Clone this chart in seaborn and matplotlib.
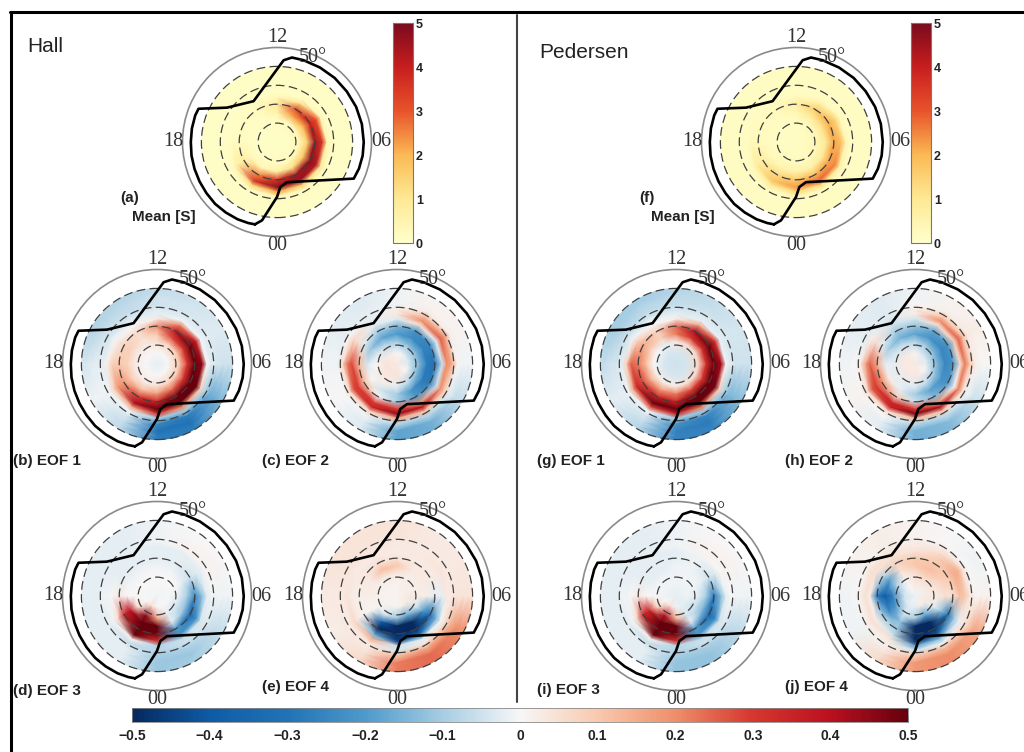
"""EOF maps of Hall and Pedersen conductance, polar MLT dials."""
import numpy as np
import pandas as pd
import seaborn as sns
import matplotlib
matplotlib.use("Agg")
import matplotlib.pyplot as plt
from matplotlib.colors import Normalize
from matplotlib.cm import ScalarMappable
from matplotlib.lines import Line2D
from matplotlib.patches import Circle

W, H = 1024, 752

# grid nodes: hours of MLT (columns) and degrees of colatitude (rows)
MLT = [0, 2, 4, 6, 8, 10, 12, 14, 16, 18, 20, 22]
COLAT = [0, 6, 12, 16, 20, 24, 26.5, 29, 32, 35.5, 38.5]

# data boundary, same for each dial
EDGE_MLT = [23.0, 23.28, 0.0, 0.28, 0.93, 4.3, 4.8, 5.4, 6.0, 6.8, 7.6, 8.4, 9.2, 10.0, 10.8, 11.33, 11.69, 13.99,
            15.7, 16.47, 16.8, 17.4, 18.0, 18.6, 19.2, 19.8, 20.4, 21.0, 21.6, 22.2, 22.7, 23.0]
EDGE_COLAT = [45.1, 42.2, 29.1, 23.9, 21.9, 45.0, 45.6, 45.9, 45.9, 45.9, 45.8, 45.6, 45.6, 45.5, 45.5, 45.4, 43.4,
              24.9, 32.1, 45.1, 45.5, 45.6, 45.6, 45.8, 45.9, 46.0, 46.1, 46.3, 46.1, 45.9, 45.5, 45.1]

HALL_MEAN = [
    [.1, .1, .1, .1, .1, .1, .1, .1, .1, .1, .1, .1],
    [.1, .1, .1, .1, .1, .1, .1, .1, .1, .1, .1, .1],
    [.2, .25, .4, .4, .4, .3, .15, .1, .1, .1, .1, .15],
    [.7, 1.2, 1.8, 1.5, 2.0, 2.2, .6, .15, .1, .15, .3, .4],
    [3.6, 4.4, 4.8, 4.5, 4.0, 3.2, .9, .25, .15, .2, .8, 2.5],
    [4.8, 4.6, 4.2, 3.5, 3.0, 1.0, .3, .15, .1, .15, .7, 3.6],
    [2.2, 1.5, .9, .5, .4, .15, .1, .1, .1, .1, .25, 1.3],
    [.4, .3, .25, .15, .15, .1, .1, .1, .1, .1, .1, .25],
    [.15, .15, .1, .1, .1, .1, .1, .1, .1, .1, .1, .1],
    [.1, .1, .1, .1, .1, .1, .1, .1, .1, .1, .1, .1],
    [.1, .1, .1, .1, .1, .1, .1, .1, .1, .1, .1, .1],
]
PEDERSEN_MEAN = [
    [.15, .15, .15, .15, .15, .15, .15, .15, .15, .15, .15, .15],
    [.15, .15, .2, .2, .2, .15, .15, .15, .15, .15, .15, .15],
    [.3, .3, .4, .5, .4, .3, .2, .15, .15, .15, .2, .3],
    [.6, .6, .9, 1.0, 1.2, .9, .4, .2, .15, .2, .3, .5],
    [1.6, 1.9, 2.2, 2.2, 2.1, 1.6, .7, .3, .2, .3, .8, 1.3],
    [2.3, 2.9, 2.5, 1.8, 1.4, .6, .3, .2, .2, .3, .8, 1.8],
    [1.3, 1.2, .7, .4, .3, .2, .15, .15, .15, .15, .3, .9],
    [.4, .3, .25, .15, .15, .15, .15, .15, .15, .15, .15, .25],
    [.15, .15, .15, .15, .15, .15, .15, .15, .15, .15, .15, .15],
    [.15, .15, .15, .15, .15, .15, .15, .15, .15, .15, .15, .15],
    [.15, .15, .15, .15, .15, .15, .15, .15, .15, .15, .15, .15],
]
HALL_EOF1 = [
    [-.02, -.02, -.02, -.02, -.02, -.02, -.02, -.02, -.02, -.02, -.02, -.02],
    [0, 0, 0, 0, 0, 0, 0, 0, 0, 0, 0, 0],
    [.05, .08, .1, .1, .1, .08, .05, .03, .03, .03, .03, .03],
    [.18, .25, .3, .3, .3, .28, .1, .05, .08, .08, .1, .12],
    [.35, .5, .55, .55, .5, .4, .2, .06, .08, .1, .18, .3],
    [.55, .55, .5, .45, .35, .2, .03, 0, .02, .08, .18, .42],
    [.3, .2, .08, 0, -.01, -.01, -.02, -.02, -.01, .02, .08, .16],
    [-.1, -.1, -.08, -.03, -.02, -.03, -.03, -.04, -.04, -.02, -.01, -.01],
    [-.25, -.28, -.16, -.04, -.03, -.04, -.05, -.06, -.05, -.02, -.01, -.04],
    [-.3, -.3, -.16, -.05, -.03, -.04, -.05, -.07, -.07, -.03, -.01, -.06],
    [-.28, -.28, -.14, -.05, -.03, -.05, -.06, -.08, -.08, -.04, -.01, -.07],
]
HALL_EOF2 = [
    [.03, .03, .03, .03, .03, .03, .03, .03, .03, .03, .03, .03],
    [.04, .02, 0, -.03, -.03, -.01, 0, .02, .03, .04, .04, .04],
    [-.02, -.08, -.15, -.15, -.15, -.14, -.1, -.08, -.04, 0, .02, .02],
    [-.1, -.22, -.28, -.28, -.26, -.24, -.2, -.18, -.12, -.04, 0, -.05],
    [-.1, -.2, -.28, -.3, -.26, -.22, -.15, -.1, -.03, .12, .12, 0],
    [.3, .2, -.05, -.05, -.02, .05, -.03, -.02, .05, .28, .3, .3],
    [.45, .4, .2, .2, .25, .2, .03, -.02, .06, .22, .28, .35],
    [.15, .12, .08, .15, .18, .12, .02, -.02, .01, .06, .06, .08],
    [-.08, -.08, -.02, .01, .02, .02, -.01, -.02, -.02, -.01, 0, -.01],
    [-.18, -.16, -.06, -.01, .01, .01, -.01, -.03, -.02, -.01, 0, -.03],
    [-.18, -.16, -.06, -.01, .01, .01, -.01, -.03, -.02, -.01, 0, -.03],
]
HALL_EOF3 = [
    [-.01, -.01, -.01, -.01, -.01, -.01, -.01, -.01, -.01, -.01, -.01, -.01],
    [0, 0, 0, 0, 0, 0, 0, 0, 0, 0, 0, .05],
    [.15, -.03, -.05, -.03, 0, 0, 0, 0, 0, 0, .05, .45],
    [.55, -.02, -.12, -.1, -.03, -.01, -.01, -.01, -.01, 0, .4, .8],
    [.6, -.2, -.35, -.25, -.05, -.02, -.02, -.02, -.02, .03, .35, .85],
    [.3, -.22, -.22, -.12, -.03, -.02, -.02, -.02, -.02, 0, .05, .5],
    [-.08, -.06, -.04, -.02, -.02, -.02, -.02, -.02, -.02, -.01, -.01, .02],
    [-.08, -.05, -.03, -.01, .01, .01, -.01, -.02, -.02, -.01, -.02, -.06],
    [-.1, -.09, -.05, -.01, .01, .01, -.01, -.02, -.02, -.02, -.02, -.02],
    [-.11, -.11, -.06, -.01, .01, 0, -.01, -.02, -.02, -.02, -.02, -.02],
    [-.11, -.1, -.06, -.01, 0, 0, -.01, -.02, -.02, -.02, -.02, -.02],
]
HALL_EOF4 = [
    [.01, .01, .01, .01, .01, .01, .01, .01, .01, .01, .01, .01],
    [.01, .02, .03, .03, .02, .02, .01, .01, .01, .01, .01, .01],
    [-.12, -.18, -.05, .02, .02, .02, .03, .03, .02, .02, .01, -.05],
    [-.7, -.65, -.2, .02, .03, .03, .1, .12, .03, .02, .01, -.4],
    [-.8, -.7, -.35, -.02, .03, .03, .04, .05, .03, .02, .01, -.55],
    [-.45, -.3, -.14, -.02, .03, .03, .02, .03, .03, .02, .03, -.15],
    [-.05, -.03, -.01, .03, .04, .03, .03, .03, .03, .04, .06, .14],
    [-.04, .03, .05, .03, .03, .03, .03, .04, .04, .03, .03, .04],
    [.12, .16, .14, .04, .03, .03, .04, .04, .04, .03, .03, .03],
    [.22, .24, .2, .04, .03, .03, .04, .04, .04, .03, .02, .05],
    [.22, .24, .2, .04, .03, .03, .04, .04, .04, .03, .02, .06],
]
PEDERSEN_EOF1 = [
    [-.05, -.05, -.05, -.05, -.05, -.05, -.05, -.05, -.05, -.05, -.05, -.05],
    [-.04, -.04, -.04, -.04, -.04, -.04, -.04, -.04, -.04, -.04, -.04, -.04],
    [.02, .05, .06, .07, .06, .06, .03, -.02, 0, 0, .02, .02],
    [.22, .28, .3, .32, .32, .3, .22, .08, .1, .12, .15, .18],
    [.35, .5, .55, .55, .5, .42, .24, .08, .16, .22, .28, .35],
    [.55, .55, .48, .42, .3, .15, .02, 0, .08, .25, .35, .55],
    [.35, .22, .08, -.01, -.02, -.02, -.02, -.01, -.01, .08, .15, .28],
    [-.1, -.1, -.08, -.03, -.03, -.03, -.04, -.04, -.04, -.02, -.01, -.01],
    [-.22, -.26, -.14, -.05, -.04, -.05, -.06, -.07, -.07, -.04, -.02, -.04],
    [-.26, -.28, -.14, -.05, -.04, -.06, -.07, -.08, -.09, -.05, -.02, -.06],
    [-.26, -.26, -.13, -.05, -.04, -.06, -.08, -.1, -.1, -.06, -.02, -.08],
]
PEDERSEN_EOF2 = [
    [.03, .03, .03, .03, .03, .03, .03, .03, .03, .03, .03, .03],
    [.03, .02, 0, -.02, -.03, -.02, .01, .02, .03, .03, .03, .03],
    [-.03, -.07, -.12, -.15, -.15, -.12, -.08, -.06, -.04, -.02, -.02, -.02],
    [-.1, -.18, -.22, -.25, -.25, -.22, -.18, -.16, -.1, -.02, .03, -.02],
    [-.05, -.14, -.22, -.22, -.22, -.18, -.12, -.1, -.02, .15, .2, .08],
    [.3, .2, 0, .05, .08, .05, -.04, -.05, .05, .25, .3, .35],
    [.48, .42, .22, .22, .25, .2, .02, -.04, .02, .15, .25, .35],
    [.12, .1, .05, .1, .12, .1, .02, -.03, -.02, .03, .06, .06],
    [-.08, -.07, -.01, .02, .03, .02, 0, -.03, -.02, 0, .01, 0],
    [-.16, -.14, -.05, 0, .02, .01, -.01, -.03, -.02, -.01, .01, -.02],
    [-.16, -.14, -.05, 0, .02, .01, -.01, -.03, -.02, -.01, .01, -.02],
]
PEDERSEN_EOF3 = [
    [-.02, -.02, -.02, -.02, -.02, -.02, -.02, -.02, -.02, -.02, -.02, -.02],
    [-.01, -.02, -.02, -.01, -.01, -.01, -.01, -.01, -.01, -.01, 0, .04],
    [.12, -.04, -.06, -.03, -.01, -.01, -.01, -.01, -.01, 0, .08, .4],
    [.6, -.02, -.15, -.1, -.02, -.01, -.01, -.02, -.02, 0, .35, .8],
    [.65, -.2, -.35, -.28, -.05, -.01, -.02, -.02, -.02, .03, .35, .85],
    [.3, -.2, -.24, -.12, -.03, -.01, -.02, -.02, -.02, 0, .06, .5],
    [-.08, -.06, -.05, -.02, 0, .01, -.01, -.02, -.02, -.01, -.01, .02],
    [-.08, -.05, -.03, 0, .01, .01, -.01, -.02, -.02, -.01, -.02, -.06],
    [-.1, -.1, -.06, -.01, .01, .01, -.01, -.02, -.02, -.02, -.02, -.02],
    [-.12, -.12, -.07, -.01, .01, 0, -.01, -.02, -.02, -.02, -.02, -.02],
    [-.12, -.12, -.07, -.01, 0, 0, -.01, -.02, -.02, -.02, -.02, -.02],
]
PEDERSEN_EOF4 = [
    [-.01, -.01, -.01, -.01, -.01, -.01, -.01, -.01, -.01, -.01, -.01, -.01],
    [-.02, .02, .03, .03, .02, .02, .03, 0, -.03, -.05, -.04, -.02],
    [-.1, -.2, -.03, .03, .05, .08, .05, .02, -.1, -.28, -.2, -.05],
    [-.65, -.7, -.12, .05, .08, .12, .1, .05, -.2, -.4, -.25, -.12],
    [-.8, -.75, -.32, .05, .1, .1, .1, .08, -.08, -.28, -.1, -.1],
    [-.5, -.35, -.1, .12, .15, .08, .04, .05, .05, .02, .02, -.05],
    [-.18, -.12, -.02, .1, .14, .05, .03, .04, .05, .05, .05, .04],
    [-.05, -.01, .03, .04, .04, .03, .02, .02, .02, .02, .02, .02],
    [.1, .13, .08, .01, 0, 0, .01, .02, .01, 0, -.01, .02],
    [.18, .2, .16, .01, -.01, 0, .01, .02, .01, -.01, -.01, .05],
    [.18, .2, .16, .01, -.01, 0, .01, .02, .01, -.01, -.01, .06],
]

MEAN_COLOURS = ["#FFFFCB", "#FEE994", "#FBB954", "#E8532B", "#C81E1E", "#7A0A1E"]
EOF_COLOURS = ["#06295F", "#0F5CA6", "#2273B6", "#4F9ACB", "#A5CDE3", "#F7F7F7",
               "#F9C9AE", "#EE8F6A", "#D6372F", "#BB1120", "#67000D"]

sns.set_theme(style="white")
plt.rcParams["font.family"] = ["Liberation Sans", "DejaVu Sans"]

mean_cmap = sns.blend_palette(MEAN_COLOURS, n_colors=64, as_cmap=True)
eof_cmap = sns.blend_palette(EOF_COLOURS, n_colors=64, as_cmap=True)
mean_norm = Normalize(0, 5)
eof_norm = Normalize(-0.5, 0.5)

fig = plt.figure(figsize=(W / 100, H / 100), dpi=100, facecolor="white")


def box(x0, y0, x1, y1):
    return [x0 / W, 1 - y1 / H, (x1 - x0) / W, (y1 - y0) / H]


def label(x, y, text, size=11, weight="bold"):
    fig.text(x / W, 1 - y / H, text, fontsize=size, fontweight=weight, va="center", ha="left", color="#222222")


def dial(cx, cy, values, cmap, norm):
    ax = fig.add_axes(box(cx - 94.5, cy - 94.5, cx + 94.5, cy + 94.5), projection="polar")
    ax.set_theta_zero_location("S")
    ax.set_theta_direction(1)

    # close the circle in MLT, and carry the last ring past the clip circle
    z = np.array(values, dtype=float)
    z = np.vstack([z, z[-1]])
    z = np.column_stack([z, z[:, 0]])
    theta = np.radians(np.array(MLT + [24]) * 15.0)
    r = np.array(COLAT + [43.5])
    mesh = ax.pcolormesh(theta, r, z, cmap=cmap, norm=norm, shading="gouraud", rasterized=True)
    mesh.set_clip_path(Circle((0.5, 0.5), 0.4, transform=ax.transAxes))

    edge = pd.DataFrame({"theta": np.radians(np.array(EDGE_MLT) * 15.0), "colat": EDGE_COLAT})
    sns.lineplot(data=edge, x="theta", y="colat", sort=False, estimator=None, color="black", lw=1.9, ax=ax, zorder=5)

    ax.set_rlim(0, 50)
    ax.set_rgrids([10, 20, 30, 40], labels=[])
    ax.set_thetagrids([], labels=[])
    ax.set_xlabel("")
    ax.set_ylabel("")
    ax.set_axisbelow(False)
    ax.yaxis.grid(True, color="#404040", lw=0.9, ls=(0, (7, 3.5)))
    ax.spines["polar"].set_color("#8a8a8a")
    ax.spines["polar"].set_linewidth(1.2)
    ax.patch.set_alpha(0)

    serif = dict(family="Liberation Serif", fontsize=14.5, color="#333333", ha="center", va="center", clip_on=False)
    ax.text(np.radians(180), 55.5, "12", **serif)
    ax.text(0, 55, "00", **serif)
    ax.text(np.radians(270), 55, "18", **serif)
    ax.text(np.radians(90), 55, "06", **serif)
    ax.text(np.radians(157), 48.7, "50°", zorder=6, **serif)
    return ax


# mean row
dial(277, 142, HALL_MEAN, mean_cmap, mean_norm)
dial(796, 142, PEDERSEN_MEAN, mean_cmap, mean_norm)
# EOF rows
dial(157, 364, HALL_EOF1, eof_cmap, eof_norm)
dial(397, 364, HALL_EOF2, eof_cmap, eof_norm)
dial(676, 364, PEDERSEN_EOF1, eof_cmap, eof_norm)
dial(915, 364, PEDERSEN_EOF2, eof_cmap, eof_norm)
dial(157, 596, HALL_EOF3, eof_cmap, eof_norm)
dial(397, 596, HALL_EOF4, eof_cmap, eof_norm)
dial(676, 596, PEDERSEN_EOF3, eof_cmap, eof_norm)
dial(915, 596, PEDERSEN_EOF4, eof_cmap, eof_norm)

# colour bars
for x0 in (393, 911):
    cax = fig.add_axes(box(x0, 23, x0 + 20, 243))
    cb = fig.colorbar(ScalarMappable(mean_norm, mean_cmap), cax=cax, ticks=[0, 1, 2, 3, 4, 5])
    cb.outline.set_edgecolor("#777777")
    cb.outline.set_linewidth(0.8)
    cax.tick_params(axis="y", direction="in", length=2.5, width=0.6, color="#555555", pad=2, labelsize=9, right=True)
    for t in cax.get_yticklabels():
        t.set_fontweight("bold")
        t.set_color("#222222")

cax = fig.add_axes(box(132, 708, 908, 722))
cb = fig.colorbar(ScalarMappable(eof_norm, eof_cmap), cax=cax, orientation="horizontal",
                  ticks=[-0.5, -0.4, -0.3, -0.2, -0.1, 0, 0.1, 0.2, 0.3, 0.4, 0.5])
cb.outline.set_edgecolor("#888888")
cb.outline.set_linewidth(0.6)
cb.set_ticklabels(["\u22120.5", "\u22120.4", "\u22120.3", "\u22120.2", "\u22120.1", "0", "0.1", "0.2", "0.3", "0.4", "0.5"])
cax.tick_params(axis="x", direction="in", length=4, width=0.6, color="#555555", pad=5, labelsize=10, bottom=True)
for t in cax.get_xticklabels():
    t.set_fontweight("bold")
    t.set_color("#222222")

# titles and panel letters
label(27, 46, "Hall", size=15, weight="normal")
label(539, 52, "Pedersen", size=15, weight="normal")
label(120, 198, "(a)")
label(132, 217, "Mean [S]")
label(639, 198, "(f)")
label(651, 217, "Mean [S]")
label(13, 461, "(b) EOF 1")
label(262, 461, "(c) EOF 2")
label(537, 461, "(g) EOF 1")
label(785, 461, "(h) EOF 2")
label(13, 691, "(d) EOF 3")
label(262, 687, "(e) EOF 4")
label(537, 690, "(i) EOF 3")
label(785, 687, "(j) EOF 4")

# frame and divider
fig.add_artist(Line2D([11 / W, 11 / W], [0, 1 - 11.5 / H], color="black", lw=2.2))
fig.add_artist(Line2D([10 / W, 1], [1 - 11.5 / H, 1 - 11.5 / H], color="black", lw=2.2))
fig.add_artist(Line2D([517 / W, 517 / W], [1 - 15 / H, 1 - 702 / H], color="#444444", lw=1.5))

fig.savefig("out.png", dpi=100)
